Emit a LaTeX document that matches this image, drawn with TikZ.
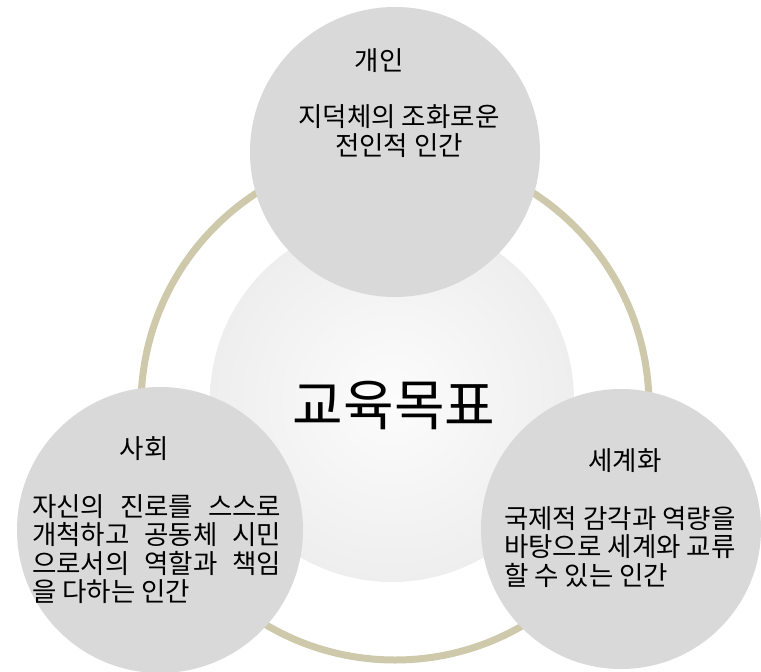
\documentclass[tikz,border=0pt]{standalone}
\usepackage{fontspec}
\newfontfamily\kr{Noto Sans CJK KR}
\definecolor{bubblegray}{HTML}{D9D9D9}
\definecolor{ringtan}{HTML}{CEC9AA}
\definecolor{hubedge}{HTML}{EEEEEE}
\definecolor{hubin}{HTML}{FCFCFC}
\begin{document}
\begin{tikzpicture}[x=1pt,y=-1pt,
  bubble/.style={circle, fill=bubblegray, draw=none, inner sep=0pt, minimum size=#1},
  hub/.style={circle, inner color=hubin, outer color=hubedge, draw=none, inner sep=0pt, minimum size=#1},
  ringline/.style={draw=ringtan, line width=7pt},
  small/.style={inner sep=0pt, font=\kr\fontsize{26.5}{28.5}\selectfont},
  big/.style={inner sep=0pt, font=\kr\fontsize{55}{60}\selectfont},
  block/.style={small, align=left}]
\useasboundingbox (0,0) rectangle (761,672);
\fill[white] (0,0) rectangle (761,672);
% ring
\coordinate (ringc) at (395,406);
\draw[ringline] (ringc) circle[radius=254pt];
% hub and bubbles
\node[hub=364pt] (hubc) at (392,400) {};
\node[bubble=290pt] (top) at (395,152) {};
\node[bubble=286pt] (left) at (160,530) {};
\node[bubble=280pt] (right) at (621,529) {};
% texts
\node[big] (goal) at (394,405) {교육목표};
\node[small] (toptitle) at (379,61) {개인};
\node[small, align=center] (topbody) at (399,131) {지덕체의 조화로운\\전인적 인간};
\node[small] (lefttitle) at (144,449) {사회};
\node[block, anchor=west] (leftbody) at (32,549) {\makebox[249pt][s]{자신의 진로를 스스로}\\\makebox[249pt][s]{개척하고 공동체 시민}\\\makebox[249pt][s]{으로서의 역할과 책임}\\을 다하는 인간};
\node[small] (righttitle) at (625,461) {세계화};
\node[block, anchor=west] (rightbody) at (504,547) {국제적 감각과 역량을\\바탕으로 세계와 교류\\할 수 있는 인간};
\end{tikzpicture}
\end{document}
